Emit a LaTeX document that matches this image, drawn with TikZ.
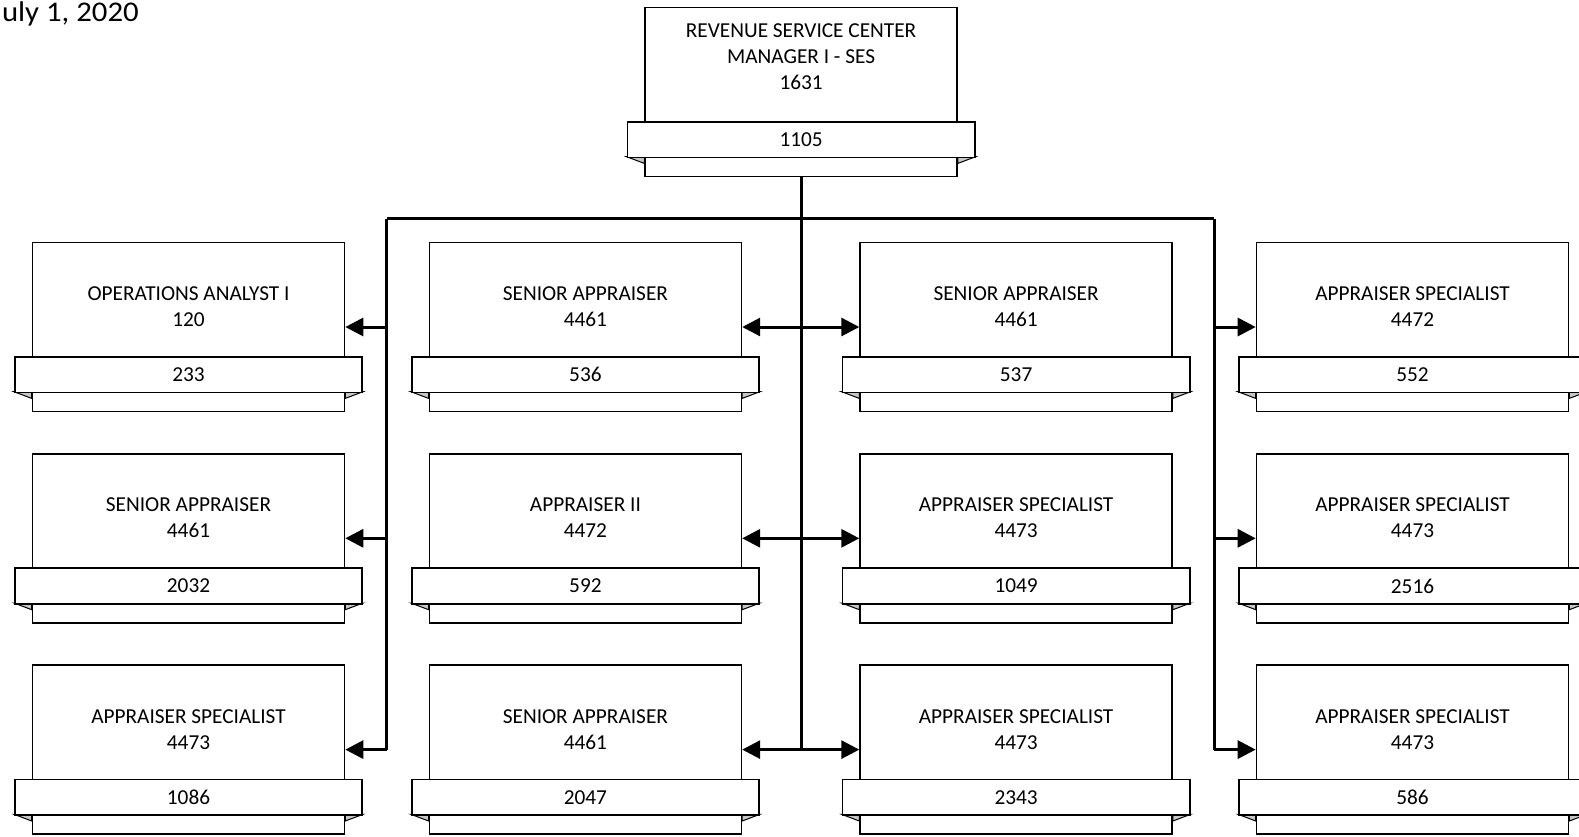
\documentclass[tikz,border=0pt]{standalone}
\usepackage{fontspec}
\setmainfont{Carlito}
\usetikzlibrary{arrows.meta}
\newcommand\orgbox[6]{%
  \node[boxmain, anchor=north west] (#1) at (#2,#3) {};
  \filldraw[foldtri] ([xshift=-17.7pt,yshift=-150pt]#1.north west) -- ([yshift=-150pt]#1.north west) -- ([yshift=-156.7pt]#1.north west) -- cycle;
  \filldraw[foldtri] ([xshift=17.7pt,yshift=-150pt]#1.north east) -- ([yshift=-150pt]#1.north east) -- ([yshift=-156.7pt]#1.north east) -- cycle;
  \node[banner, anchor=north] (#1n) at ([yshift=-114.3pt]#1.north) {#5};
  \node[titletext] (#1t) at ([yshift=-#6pt]#1.north) {#4};
}
\begin{document}
\begin{tikzpicture}[x=1pt,y=-1pt,
  boxmain/.style={draw, line width=1.6pt, fill=white, minimum width=312pt, minimum height=169pt, inner sep=0pt},
  banner/.style={draw, line width=1.6pt, fill=white, minimum width=347.4pt, minimum height=35.7pt, inner sep=0pt, font=\fontsize{21.3}{25}\selectfont},
  titletext/.style={align=center, inner sep=0pt, font=\fontsize{21.3}{26}\selectfont},
  foldtri/.style={fill=black!22, draw, line width=1pt},
  conn/.style={line width=3pt},
  arr/.style={line width=3pt, -{Triangle[length=18pt,width=18pt]}}]
\useasboundingbox (0,0) rectangle (1579,836);
\clip (0,0) rectangle (1579,836);
\node[anchor=base east, inner sep=0pt, xscale=1.08, transform shape, font=\fontsize{28.5}{30}\selectfont] (date) at (139,21) {uly 1, 2020};

\orgbox{top}{644.3}{6.7}{REVENUE SERVICE CENTER\\MANAGER I - SES\\1631}{1105}{50}

\orgbox{c1r1}{31.7}{241.7}{OPERATIONS ANALYST I\\120}{233}{65}
\orgbox{c1r2}{31.7}{453}{SENIOR APPRAISER\\4461}{2032}{65}
\orgbox{c1r3}{31.7}{664.3}{APPRAISER SPECIALIST\\4473}{1086}{65}

\orgbox{c2r1}{428.6}{241.7}{SENIOR APPRAISER\\4461}{536}{65}
\orgbox{c2r2}{428.6}{453}{APPRAISER II\\4472}{592}{65}
\orgbox{c2r3}{428.6}{664.3}{SENIOR APPRAISER\\4461}{2047}{65}

\orgbox{c3r1}{859.3}{241.7}{SENIOR APPRAISER\\4461}{537}{65}
\orgbox{c3r2}{859.3}{453}{APPRAISER SPECIALIST\\4473}{1049}{65}
\orgbox{c3r3}{859.3}{664.3}{APPRAISER SPECIALIST\\4473}{2343}{65}

\orgbox{c4r1}{1255.7}{241.7}{APPRAISER SPECIALIST\\4472}{552}{65}
\orgbox{c4r2}{1255.7}{453}{APPRAISER SPECIALIST\\4473}{2516}{65}
\orgbox{c4r3}{1255.7}{664.3}{APPRAISER SPECIALIST\\4473}{586}{65}

\coordinate (busL) at (386.7,218.5);
\coordinate (busR) at (1214,218.5);
\draw[conn] (busL) -- (busR);
\draw[conn] (top.south) -- (top.south |- c3r3.west);
\draw[conn] (busL) -- (busL |- c1r3.east);
\draw[conn] (busR) -- (busR |- c4r3.west);
\foreach \r in {1,2,3}{
  \draw[arr] (busL |- c1r\r.east) -- (c1r\r.east);
  \draw[arr] (top.south |- c2r\r.east) -- (c2r\r.east);
  \draw[arr] (top.south |- c3r\r.west) -- (c3r\r.west);
  \draw[arr] (busR |- c4r\r.west) -- (c4r\r.west);
}
\end{tikzpicture}
\end{document}
